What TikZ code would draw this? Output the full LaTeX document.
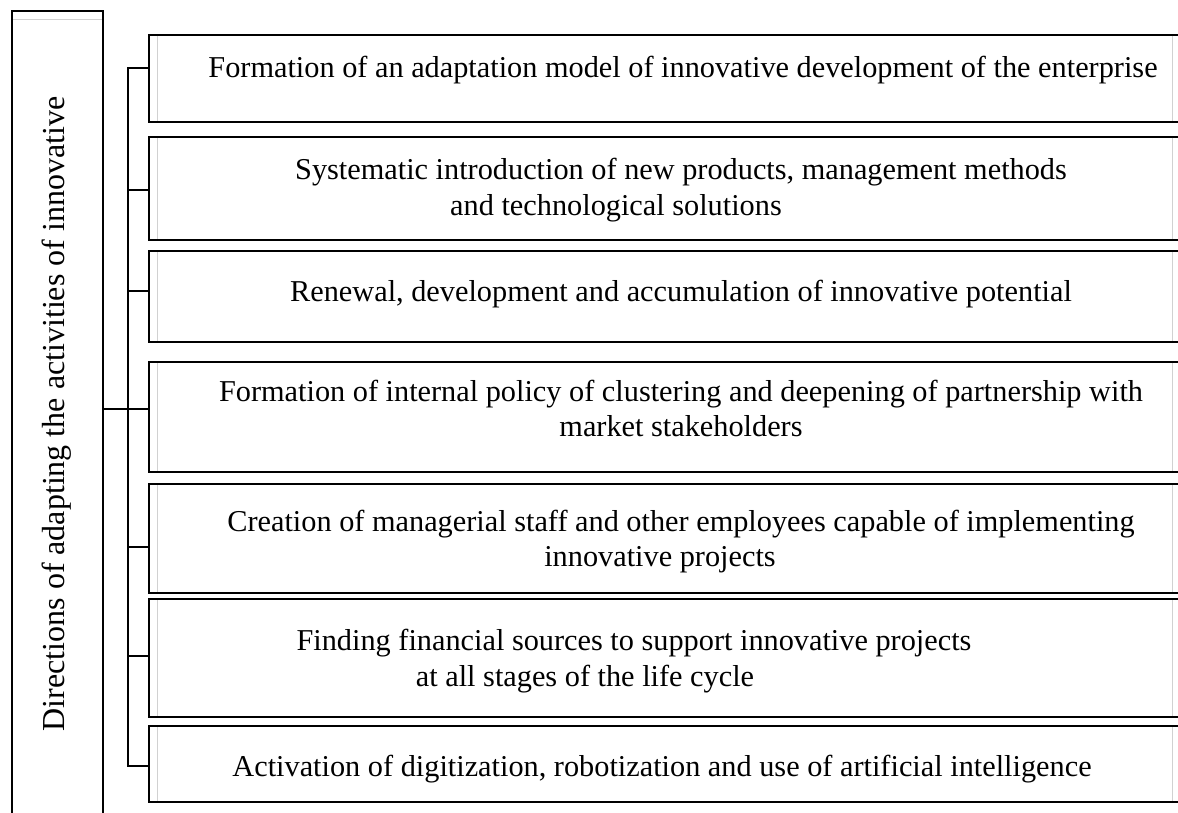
\documentclass[tikz,border=0pt]{standalone}
\usepackage{fontspec}
\setmainfont{Liberation Serif}
\begin{document}
\begin{tikzpicture}[x=1pt,y=-1pt,
  box/.style={draw=black,line width=1.6pt},
  shade/.style={draw=black!18,line width=0.8pt},
  wire/.style={draw=black,line width=1.5pt},
  lbl/.style={font=\fontsize{30.3}{36}\selectfont,inner sep=0pt,anchor=base},
  ttl/.style={font=\fontsize{32}{38}\selectfont,inner sep=0pt,anchor=base,rotate=90}]
\useasboundingbox (0,0) rectangle (1178,813);
% left title box (runs off the bottom)
\draw[box] (12,830) -- (12,11) -- (103,11) -- (103,830);
\draw[shade] (13,19) -- (102,19);
\node[ttl] (title) at (64,414) {Directions of adapting the activities of innovative};
% item boxes (right side runs off the edge)
\foreach \n/\t/\b in {1/35/122,2/137/240,3/251/342,4/362/472,5/484/593,6/599/717,7/726/802}{
  \draw[box] (1190,\t) -- (149,\t) -- (149,\b) -- (1190,\b);
  \draw[shade] (157,\t+1) -- (157,\b-1);
  \draw[shade] (1172,\t+1) -- (1172,\b-1);
  \coordinate (b\n) at (149,{(\t+\b)/2});
}
% texts
\node[lbl] (t1) at (683,78) {Formation of an adaptation model of innovative development of the enterprise};
\node[lbl] (t2a) at (681,180) {Systematic introduction of new products, management methods};
\node[lbl] (t2b) at (616,215) {and technological solutions};
\node[lbl] (t3) at (681,301) {Renewal, development and accumulation of innovative potential};
\node[lbl] (t4a) at (681,401) {Formation of internal policy of clustering and deepening of partnership with};
\node[lbl] (t4b) at (681,436) {market stakeholders};
\node[lbl] (t5a) at (681,531) {Creation of managerial staff and other employees capable of implementing};
\node[lbl] (t5b) at (660,566) {innovative projects};
\node[lbl] (t6a) at (634,650) {Finding financial sources to support innovative projects};
\node[lbl] (t6b) at (585,686) {at all stages of the life cycle};
\node[lbl] (t7) at (662,776) {Activation of digitization, robotization and use of artificial intelligence};
% connectors
\coordinate (top) at (128,68);
\coordinate (bot) at (128,766);
\draw[wire] (149,68) -- (top) -- (bot) -- (149,766);
\foreach \y in {190,291,547,656}{\draw[wire] (128,\y) -- (149,\y);}
\draw[wire] (103,409) -- (149,409);
\end{tikzpicture}
\end{document}
